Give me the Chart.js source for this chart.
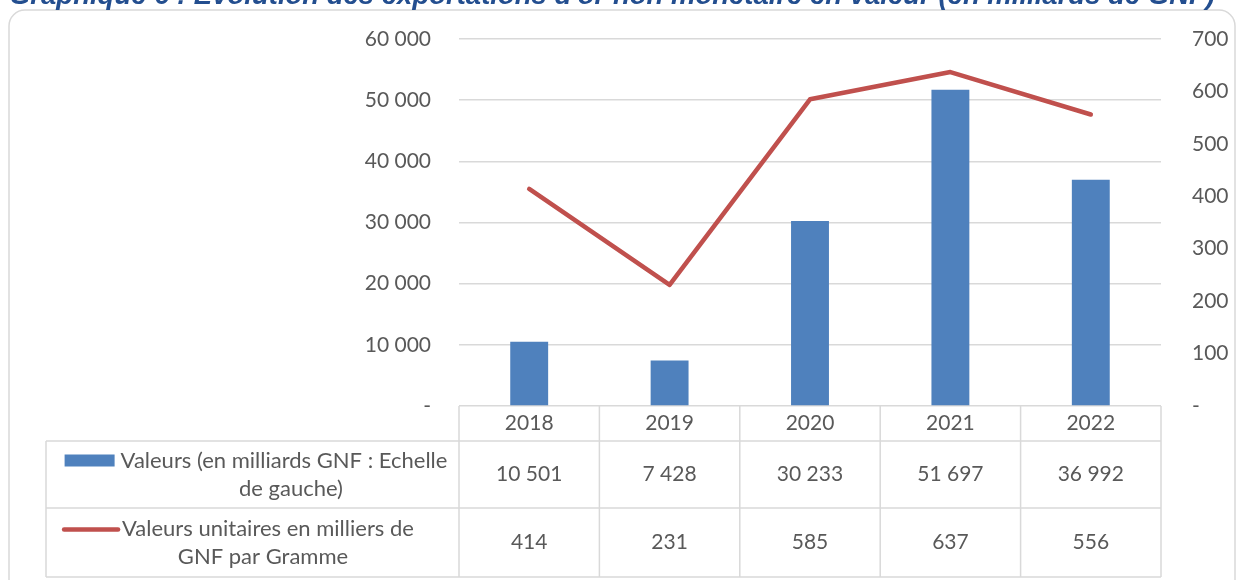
<!DOCTYPE html>
<html>
<head>
<meta charset="utf-8">
<script src="https://cdn.jsdelivr.net/npm/chart.js@4"></script>
<style>
  body { margin: 0; background: #ffffff; }
  #wrap { width: 1241px; height: 580px; position: relative; }
</style>
</head>
<body>
<div id="wrap"><canvas id="chart" width="1241" height="580"></canvas></div>
<script>
// Chart data
const years = ["2018", "2019", "2020", "2021", "2022"];
const valeurs = [10501, 7428, 30233, 51697, 36992];
const unitaires = [414, 231, 585, 637, 556];
const labelValeurs = ["Valeurs (en milliards GNF : Echelle", "de gauche)"];
const labelUnitaires = ["Valeurs unitaires en milliers de", "GNF par Gramme"];
const titleText = "Graphique 6 : Evolution des exportations d'or non monétaire en valeur (en milliards de GNF)";

const textColor = "#595959";
const gridColor = "#d9d9d9";
const blue = "#4f81bd";
const red = "#c0504d";
const font = "Lato";

// number with space as thousands separator, zero shown as "-"
function fmt(v) {
  if (v === 0) return "-";
  return String(v).replace(/\B(?=(\d{3})+(?!\d))/g, " ");
}

// Title (cut at top) and rounded frame
const framePlugin = {
  id: "frame",
  beforeDraw(chart) {
    const ctx = chart.ctx;
    ctx.save();
    ctx.strokeStyle = gridColor;
    ctx.lineWidth = 1.5;
    ctx.beginPath();
    ctx.roundRect(9, 10, 1226, 600, 16);
    ctx.stroke();
    ctx.fillStyle = "#234e8f";
    ctx.font = "bold italic 27.5px 'Liberation Sans'";
    ctx.textAlign = "center";
    ctx.textBaseline = "alphabetic";
    ctx.fillText(titleText, 612, 4);
    ctx.restore();
  }
};

// Data table drawn under the plot area
const tablePlugin = {
  id: "dataTable",
  afterDraw(chart) {
    const ctx = chart.ctx;
    const area = chart.chartArea;
    const x = chart.scales.x;
    const colW = (area.right - area.left) / years.length;
    const top = area.bottom;
    const r1 = top + 35, r2 = top + 102, r3 = top + 171;
    const leftEdge = 46;

    ctx.save();
    ctx.strokeStyle = gridColor;
    ctx.lineWidth = 1.5;
    ctx.beginPath();
    [r1, r2, r3].forEach(y => {
      ctx.moveTo(leftEdge, y);
      ctx.lineTo(area.right, y);
    });
    for (let k = 0; k <= years.length; k++) {
      const xx = area.left + k * colW;
      ctx.moveTo(xx, top);
      ctx.lineTo(xx, r3);
    }
    ctx.moveTo(leftEdge, r1);
    ctx.lineTo(leftEdge, r3);
    ctx.stroke();

    ctx.fillStyle = textColor;
    ctx.font = "21px " + font;
    ctx.textAlign = "center";
    ctx.textBaseline = "middle";
    years.forEach((y, i) => {
      const cx = x.getPixelForValue(i);
      ctx.fillText(y, cx, (top + r1) / 2);
      ctx.fillText(fmt(valeurs[i]), cx, (r1 + r2) / 2);
      ctx.fillText(String(unitaires[i]), cx, (r2 + r3) / 2);
    });

    // row labels with legend keys
    ctx.font = "22px " + font;
    const cxLabel1 = 284, cxLabel2 = 268;
    const lh = 28;
    let w1 = ctx.measureText(labelValeurs[0]).width;
    let y1 = (r1 + r2) / 2 - lh / 2;
    ctx.fillText(labelValeurs[0], cxLabel1, y1);
    ctx.fillText(labelValeurs[1], cxLabel1 + 7, y1 + lh);
    ctx.fillStyle = blue;
    ctx.fillRect(cxLabel1 - w1 / 2 - 56, y1 - 6, 50, 12);

    ctx.fillStyle = textColor;
    let w2 = ctx.measureText(labelUnitaires[0]).width;
    let y2 = (r2 + r3) / 2 - lh / 2;
    ctx.fillText(labelUnitaires[0], cxLabel2, y2);
    ctx.fillText(labelUnitaires[1], cxLabel2 - 5, y2 + lh);
    ctx.strokeStyle = red;
    ctx.lineWidth = 4.5;
    ctx.lineCap = "round";
    ctx.beginPath();
    ctx.moveTo(cxLabel2 - w2 / 2 - 58, y2 + 1);
    ctx.lineTo(cxLabel2 - w2 / 2 - 4, y2 + 1);
    ctx.stroke();
    ctx.restore();
  }
};

// keep the plot area where the layout padding puts it
function fixAxis(width) {
  return s => {
    s.width = width;
    s.paddingTop = 0;
    s.paddingBottom = 0;
  };
}

const chart = new Chart(document.getElementById("chart"), {
  type: "bar",
  data: {
    labels: years,
    datasets: [
      {
        type: "line",
        label: labelUnitaires.join(" "),
        data: unitaires,
        yAxisID: "y1",
        borderColor: red,
        borderWidth: 4.5,
        borderCapStyle: "round",
        borderJoinStyle: "round",
        pointRadius: 0,
        tension: 0,
        order: 0
      },
      {
        type: "bar",
        label: labelValeurs.join(" "),
        data: valeurs,
        yAxisID: "y",
        backgroundColor: blue,
        categoryPercentage: 1,
        barPercentage: 0.27,
        order: 1
      }
    ]
  },
  options: {
    responsive: false,
    animation: false,
    layout: { padding: { top: 39, bottom: 174, left: 0, right: 0 } },
    plugins: {
      legend: { display: false },
      tooltip: { enabled: false }
    },
    scales: {
      x: { display: false },
      y: {
        position: "left",
        min: 0,
        max: 60000,
        ticks: {
          stepSize: 10000,
          padding: 28,
          color: textColor,
          font: { family: font, size: 21 },
          callback: v => fmt(v)
        },
        grid: { color: gridColor, lineWidth: 1.5, drawTicks: false },
        border: { display: false },
        afterFit: fixAxis(459)
      },
      y1: {
        position: "right",
        min: 0,
        max: 700,
        ticks: {
          stepSize: 100,
          padding: 31,
          color: textColor,
          font: { family: font, size: 21 },
          callback: v => fmt(v)
        },
        grid: { display: false, drawTicks: false },
        border: { display: false },
        afterFit: fixAxis(80)
      }
    }
  },
  plugins: [framePlugin, tablePlugin]
});
</script>
</body>
</html>
